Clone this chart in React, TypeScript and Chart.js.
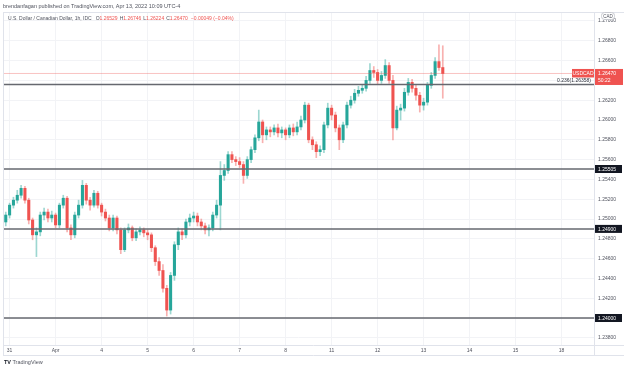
import React, { useEffect, useRef } from "react";
import { Chart, registerables } from "chart.js";
Chart.register(...registerables);

// ---- data ----
const dayLabels = ["31", "Apr", "4", "5", "6", "7", "8", "11", "12", "13", "14", "15", "18"];
const dayTicks = [0, 1, 2, 3, 4, 5, 6, 7, 8, 9, 10, 11, 12];
const priceTicks = [1.238, 1.24, 1.242, 1.244, 1.246, 1.248, 1.25, 1.252, 1.254, 1.256, 1.258, 1.26, 1.262, 1.264, 1.266, 1.268, 1.27];

const opens = [
  1.2497, 1.2504, 1.2514, 1.2519, 1.2524, 1.2531, 1.2519, 1.2499, 1.2484, 1.2487,
  1.2504, 1.2507, 1.2501, 1.2504, 1.2494, 1.2514, 1.2521, 1.2491, 1.2484, 1.2504,
  1.2514, 1.2534, 1.2519, 1.2514, 1.2526, 1.2514, 1.2507, 1.2501, 1.2491, 1.2501,
  1.2489, 1.2469, 1.2489, 1.2491, 1.2481, 1.2487, 1.2489, 1.2486, 1.2484, 1.2471,
  1.2457, 1.2448, 1.243, 1.2408, 1.2443, 1.2474, 1.2487, 1.2484, 1.2497, 1.2501,
  1.2503, 1.2497, 1.2493, 1.2489, 1.2491, 1.2504, 1.2514, 1.2544, 1.2549, 1.2565,
  1.256, 1.2558, 1.2555, 1.2544, 1.256, 1.257, 1.2582, 1.2598, 1.2585, 1.259,
  1.2588, 1.2592, 1.2587, 1.259, 1.2585, 1.2592, 1.2588, 1.2593, 1.26, 1.2615,
  1.258, 1.2575, 1.2568, 1.257, 1.2595, 1.2612, 1.2605, 1.2592, 1.258, 1.2595,
  1.2615, 1.262, 1.2627, 1.263, 1.2632, 1.264, 1.265, 1.2648, 1.264, 1.2645,
  1.2655, 1.264, 1.2592, 1.261, 1.2612, 1.2628, 1.2638, 1.2632, 1.2625, 1.2615,
  1.2618, 1.2635, 1.2645, 1.2659, 1.2653,
];
const highs = [
  1.2507, 1.2516, 1.2522, 1.2529, 1.2534, 1.2533, 1.2521, 1.2501, 1.2491, 1.2507,
  1.2511, 1.251, 1.2508, 1.2506, 1.2516, 1.2524, 1.2523, 1.2494, 1.2507, 1.2519,
  1.2539, 1.2536, 1.2522, 1.2529, 1.2528, 1.2516, 1.251, 1.2504, 1.2504, 1.2503,
  1.2491, 1.2491, 1.2495, 1.2493, 1.249, 1.2492, 1.2491, 1.2489, 1.2486, 1.2473,
  1.2461, 1.2454, 1.2433, 1.2446, 1.2477, 1.2491, 1.249, 1.25, 1.2505, 1.2507,
  1.2506, 1.25, 1.2496, 1.2494, 1.2507, 1.2519, 1.2558, 1.2555, 1.2568, 1.2568,
  1.2563, 1.2562, 1.2558, 1.2563, 1.2573, 1.2585, 1.261, 1.26, 1.2593, 1.2593,
  1.2595, 1.2596, 1.2593, 1.2592, 1.2595, 1.2596, 1.2598, 1.2604, 1.2618, 1.2617,
  1.2583, 1.2578, 1.2574, 1.2598, 1.2617, 1.2615, 1.2608, 1.2595, 1.2598, 1.2618,
  1.2624, 1.2631, 1.2634, 1.2636, 1.2644, 1.2657, 1.2654, 1.2651, 1.2649, 1.2661,
  1.2658, 1.2645, 1.2614, 1.2616, 1.2632, 1.2642, 1.2641, 1.2635, 1.2628, 1.2622,
  1.2638, 1.2648, 1.2663, 1.2676, 1.2675,
];
const lows = [
  1.2493, 1.2501, 1.2511, 1.2516, 1.2521, 1.2516, 1.2495, 1.2479, 1.2462, 1.2483,
  1.2499, 1.2497, 1.2497, 1.2491, 1.2491, 1.2511, 1.2487, 1.2479, 1.2481, 1.2501,
  1.2511, 1.2515, 1.2509, 1.2512, 1.2511, 1.2503, 1.2498, 1.2488, 1.2488, 1.2485,
  1.2465, 1.2467, 1.2486, 1.2478, 1.2478, 1.2484, 1.2482, 1.2479, 1.2467, 1.2453,
  1.2443, 1.2426, 1.2402, 1.2404, 1.2438, 1.2469, 1.2479, 1.2481, 1.2493, 1.2497,
  1.2493, 1.2489, 1.2485, 1.2483, 1.2488, 1.2501, 1.2489, 1.2539, 1.2546, 1.2557,
  1.2554, 1.2552, 1.2536, 1.2541, 1.2557, 1.2567, 1.2579, 1.2577, 1.258, 1.2583,
  1.2585, 1.2583, 1.2582, 1.258, 1.2582, 1.2584, 1.2585, 1.259, 1.2597, 1.2577,
  1.257, 1.2562, 1.2564, 1.2567, 1.2592, 1.26, 1.2588, 1.257, 1.2577, 1.2592,
  1.2612, 1.2617, 1.2624, 1.2627, 1.2629, 1.2637, 1.2643, 1.2636, 1.2637, 1.2642,
  1.2637, 1.258, 1.259, 1.26, 1.2609, 1.2625, 1.2628, 1.262, 1.2608, 1.261,
  1.2615, 1.2632, 1.2642, 1.265, 1.2622,
];
const closes = [
  1.2504, 1.2514, 1.2519, 1.2524, 1.2531, 1.2519, 1.2499, 1.2484, 1.2487, 1.2504,
  1.2507, 1.2501, 1.2504, 1.2494, 1.2514, 1.2521, 1.2491, 1.2484, 1.2504, 1.2514,
  1.2534, 1.2519, 1.2514, 1.2526, 1.2514, 1.2507, 1.2501, 1.2491, 1.2501, 1.2489,
  1.2469, 1.2489, 1.2491, 1.2481, 1.2487, 1.2489, 1.2486, 1.2484, 1.2471, 1.2457,
  1.2448, 1.243, 1.2408, 1.2443, 1.2474, 1.2487, 1.2484, 1.2497, 1.2501, 1.2503,
  1.2497, 1.2493, 1.2489, 1.2491, 1.2504, 1.2514, 1.2544, 1.2549, 1.2565, 1.256,
  1.2558, 1.2555, 1.2544, 1.256, 1.257, 1.2582, 1.2598, 1.2585, 1.259, 1.2588,
  1.2592, 1.2587, 1.259, 1.2585, 1.2592, 1.2588, 1.2593, 1.26, 1.2615, 1.258,
  1.2575, 1.2568, 1.257, 1.2595, 1.2612, 1.2605, 1.2592, 1.258, 1.2595, 1.2615,
  1.262, 1.2627, 1.263, 1.2632, 1.264, 1.265, 1.2648, 1.264, 1.2645, 1.2655,
  1.264, 1.2592, 1.261, 1.2612, 1.2628, 1.2638, 1.2632, 1.2625, 1.2615, 1.2618,
  1.2635, 1.2645, 1.2659, 1.2653, 1.2647,
];
// candle time in days since Mar 31 00:00 (2-hour candles, weekend removed)
const firstCandleDay = -1 / 12;
const candleStepDays = 1 / 12;

const levelLines = [1.24, 1.249, 1.25505];
const fibLevel = 1.26358;
const fibLabel = "0.236(1.26358)";
const lastPrice = 1.2647;
const countdown = "50:22";
const symbol = "USDCAD";
const headerOHLC = { O: "1.26529", H: "1.26746", L: "1.26224", C: "1.26470" };
const headerChange = "\u22120.00049 (\u22120.04%)";

// ---- styling ----
const UP = "#26a69a";
const DOWN = "#ef5350";
const UP_WICK = "rgba(38,166,154,0.45)";
const DOWN_WICK = "rgba(239,83,80,0.45)";
const FONT = '"Liberation Sans", Arial, sans-serif';
const X_MIN = -0.1435;
const X_MAX = 12.704;

export default function App() {
  const ref = useRef<HTMLCanvasElement>(null);
  useEffect(() => {
    const prev = document.body.style.margin;
    document.body.style.margin = "0";
    const times = closes.map((_, i) => firstCandleDay + i * candleStepDays);
    const isUp = closes.map((c, i) => c >= opens[i]);

    const overlay = {
      id: "overlay",
      afterDraw(chart: any) {
        const { ctx, chartArea: a } = chart;
        const y = chart.scales.y;
        ctx.save();
        // frame
        ctx.strokeStyle = "#e0e3eb";
        ctx.lineWidth = 1;
        ctx.beginPath();
        ctx.moveTo(3, 12.5);
        ctx.lineTo(624, 12.5);
        ctx.moveTo(3.5, 12);
        ctx.lineTo(3.5, 355);
        ctx.moveTo(3, 355.5);
        ctx.lineTo(624, 355.5);
        ctx.moveTo(3, a.bottom + 0.5);
        ctx.lineTo(624, a.bottom + 0.5);
        ctx.moveTo(a.right + 0.5, 12);
        ctx.lineTo(a.right + 0.5, 355);
        ctx.stroke();

        ctx.textBaseline = "middle";
        ctx.font = `5px ${FONT}`;
        // level boxes
        levelLines.forEach((v) => {
          const py = y.getPixelForValue(v);
          ctx.fillStyle = "#131722";
          ctx.fillRect(a.right + 1, py - 4, 27, 8);
          ctx.fillStyle = "#ffffff";
          ctx.textAlign = "left";
          ctx.fillText(v.toFixed(5), a.right + 4, py + 0.5);
        });
        // last price box
        const lp = y.getPixelForValue(lastPrice);
        ctx.fillStyle = DOWN;
        ctx.fillRect(a.right + 1, lp - 4.5, 28, 16);
        ctx.fillStyle = "#ffffff";
        ctx.textAlign = "left";
        ctx.fillText(lastPrice.toFixed(5), a.right + 4, lp);
        ctx.fillText(countdown, a.right + 4, lp + 7);
        // symbol box
        ctx.fillStyle = DOWN;
        ctx.fillRect(a.right - 22, lp - 4.5, 22, 8.5);
        ctx.fillStyle = "#ffffff";
        ctx.textAlign = "center";
        ctx.fillText(symbol, a.right - 11, lp);
        // fib label
        const fp = y.getPixelForValue(fibLevel);
        ctx.fillStyle = "#2a2e39";
        ctx.textAlign = "right";
        ctx.fillText(fibLabel, a.right - 3, fp - 4);
        // CAD badge
        ctx.fillStyle = "#ffffff";
        ctx.strokeStyle = "#c8cad0";
        ctx.beginPath();
        (ctx as any).roundRect(601.5, 12.5, 13, 7, 3);
        ctx.fill();
        ctx.stroke();
        ctx.fillStyle = "#50535e";
        ctx.textAlign = "center";
        ctx.font = `4.5px ${FONT}`;
        ctx.fillText("CAD", 608, 16.3);
        ctx.restore();
      },
    };

    const lineDs = (v: number, color: string, width: number) => ({
      type: "line" as const,
      data: [
        { x: X_MIN, y: v },
        { x: X_MAX, y: v },
      ],
      borderColor: color,
      borderWidth: width,
      pointRadius: 0,
      order: 0,
    });

    const chart = new Chart(ref.current!, {
      type: "bar",
      data: {
        datasets: [
          {
            type: "bar",
            data: times.map((t, i) => ({ x: t, y: [lows[i], highs[i]] })) as any,
            backgroundColor: isUp.map((u) => (u ? UP_WICK : DOWN_WICK)),
            barThickness: 1,
            grouped: false,
            order: 3,
          } as any,
          {
            type: "bar",
            data: times.map((t, i) => ({ x: t, y: [opens[i], closes[i]] })) as any,
            backgroundColor: isUp.map((u) => (u ? UP : DOWN)),
            barThickness: 2.4,
            minBarLength: 1,
            grouped: false,
            order: 2,
          } as any,
          lineDs(lastPrice, "rgba(239,83,80,0.35)", 1),
          ...levelLines.map((v) => lineDs(v, "#66686f", 1.5)),
          lineDs(fibLevel, "#66686f", 1.5),
        ],
      },
      options: {
        animation: false,
        responsive: false,
        devicePixelRatio: 1,
        layout: { padding: { top: 12, left: 3, bottom: 16, right: 0 } },
        plugins: { legend: { display: false }, tooltip: { enabled: false } },
        scales: {
          x: {
            type: "linear",
            min: X_MIN,
            max: X_MAX,
            offset: false,
            afterBuildTicks: (s: any) => {
              s.ticks = dayTicks.map((v) => ({ value: v }));
            },
            afterFit: (s: any) => {
              s.height = 10;
            },
            grid: { color: "#f2f3f6", drawTicks: false, offset: false },
            border: { display: false },
            ticks: {
              autoSkip: false,
              maxRotation: 0,
              padding: 2.5,
              color: "#50535e",
              font: { size: 5, family: FONT },
              callback: (v: any) => dayLabels[dayTicks.indexOf(Math.round(Number(v)))] ?? "",
            },
          },
          y: {
            type: "linear",
            position: "right",
            min: 1.237273,
            max: 1.270909,
            afterBuildTicks: (s: any) => {
              s.ticks = priceTicks.map((v) => ({ value: v }));
            },
            afterFit: (s: any) => {
              s.width = 30;
            },
            grid: { color: "#f2f3f6", drawTicks: false },
            border: { display: false },
            ticks: {
              padding: 4,
              color: "#50535e",
              font: { size: 5, family: FONT },
              callback: (v: any) => Number(v).toFixed(5),
            },
          },
        },
      },
      plugins: [overlay],
    } as any);
    return () => {
      chart.destroy();
      document.body.style.margin = prev;
    };
  }, []);

  const red = { color: DOWN };
  const gap = { marginLeft: 2 };
  return (
    <div style={{ position: "relative", width: 624, height: 371, background: "#fff", fontFamily: FONT, overflow: "hidden" }}>
      <canvas ref={ref} width={624} height={371} style={{ position: "absolute", left: 0, top: 0, width: 624, height: 371 }} />
      <div style={{ position: "absolute", left: 3, top: 3, fontSize: 5.5, lineHeight: "6px", color: "#50535e", whiteSpace: "nowrap" }}>
        brendanfagan published on TradingView.com, Apr 13, 2022 10:09 UTC-4
      </div>
      <div style={{ position: "absolute", left: 8, top: 14.5, fontSize: 5, lineHeight: "6px", color: "#50535e", whiteSpace: "nowrap" }}>
        U.S. Dollar / Canadian Dollar, 1h, IDC
        <span style={{ marginLeft: 4 }}>O</span><span style={red}>{headerOHLC.O}</span>
        <span style={gap}>H</span><span style={red}>{headerOHLC.H}</span>
        <span style={gap}>L</span><span style={red}>{headerOHLC.L}</span>
        <span style={gap}>C</span><span style={red}>{headerOHLC.C}</span>
        <span style={{ ...red, marginLeft: 3 }}>{headerChange}</span>
      </div>
      <div style={{ position: "absolute", left: 4, top: 359, fontSize: 5.5, lineHeight: "7px", color: "#50535e", whiteSpace: "nowrap" }}>
        <span style={{ fontWeight: 700, color: "#131722" }}>TV</span> TradingView
      </div>
    </div>
  );
}
